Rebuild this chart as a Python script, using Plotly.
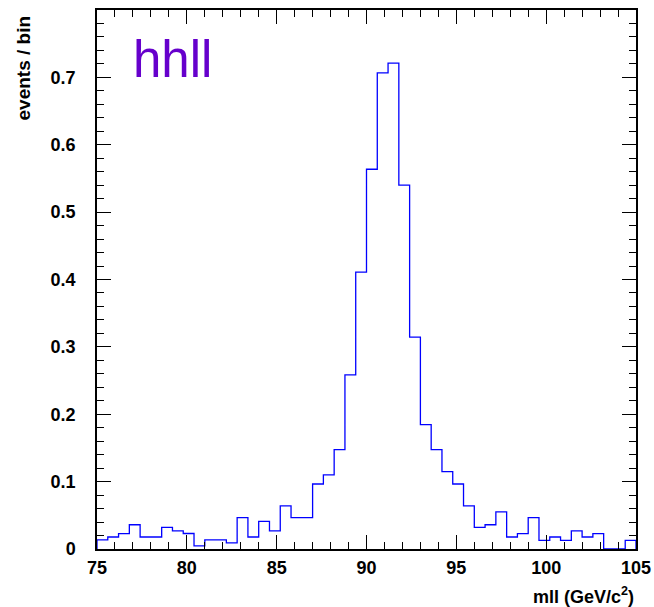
import numpy as np
import plotly.graph_objects as go

# Histogram: 50 bins of 0.6 GeV from 75 to 105
x_min = 75.0
bin_width = 0.6
events_per_bin = [
    0.0134, 0.0178, 0.0228, 0.0360, 0.0178, 0.0178, 0.0320, 0.0270, 0.0230, 0.0045,
    0.0134, 0.0134, 0.0090, 0.0465, 0.0178, 0.0410, 0.0270, 0.0640, 0.0465, 0.0465,
    0.0965, 0.1100, 0.1475, 0.2585, 0.4110, 0.5636, 0.7068, 0.7211, 0.5400, 0.3145,
    0.1847, 0.1475, 0.1149, 0.0965, 0.0639, 0.0322, 0.0360, 0.0550, 0.0178, 0.0228,
    0.0465, 0.0129, 0.0178, 0.0129, 0.0270, 0.0178, 0.0228, 0.0000, 0.0000, 0.0129,
]
x_ticks = [75, 80, 85, 90, 95, 100, 105]
y_ticks = [0, 0.1, 0.2, 0.3, 0.4, 0.5, 0.6, 0.7]
y_tick_text = ["0", "0.1", "0.2", "0.3", "0.4", "0.5", "0.6", "0.7"]

n = len(events_per_bin)
edges = x_min + bin_width * np.arange(n + 1)
xs = list(edges)
ys = list(events_per_bin) + [events_per_bin[-1]]
xs = [edges[0]] + xs + [edges[-1]]
ys = [0] + ys + [0]

fig = go.Figure()
fig.add_trace(go.Scatter(
    x=xs, y=ys, mode="lines", line=dict(shape="hv", color="#0000ff", width=1.3),
    hoverinfo="skip", showlegend=False,
))

FONT = "Liberation Sans, Arial, sans-serif"
tickfont = dict(family=FONT, size=18, color="black", weight="bold")

fig.update_xaxes(
    range=[75, 105], tickvals=x_ticks, ticktext=[str(v) for v in x_ticks],
    ticks="inside", ticklen=14, tickwidth=1, tickcolor="black",
    minor=dict(ticks="inside", ticklen=7, dtick=1, tickcolor="black", tickwidth=1, showgrid=False),
    showline=True, linecolor="black", linewidth=1.5, mirror="allticks",
    showgrid=False, zeroline=False, tickfont=tickfont, ticklabelstandoff=2,
    automargin=False,
)
fig.update_yaxes(
    range=[0, 0.8], tickvals=y_ticks, ticktext=y_tick_text,
    ticks="inside", ticklen=14, tickwidth=1, tickcolor="black",
    minor=dict(ticks="inside", ticklen=7, dtick=0.02, tick0=0, tickcolor="black", tickwidth=1, showgrid=False),
    showline=True, linecolor="black", linewidth=1.5, mirror="allticks",
    showgrid=False, zeroline=False, tickfont=tickfont, ticklabelstandoff=16,
    automargin=False,
)

fig.add_annotation(
    text="hhll", xref="paper", yref="paper", x=(131 - 97) / 539, y=1 - (29 - 10) / 539,
    xanchor="left", yanchor="top", showarrow=False,
    font=dict(family=FONT, size=51, color="#6600cc"),
)
fig.add_annotation(
    text="mll (GeV/c<sup>2</sup>)", xref="paper", yref="paper", x=1.0, y=-(582 - 549) / 539,
    xanchor="right", yanchor="top", showarrow=False,
    font=dict(family=FONT, size=18, color="black", weight="bold"),
)
fig.add_annotation(
    text="events / bin", xref="paper", yref="paper", x=-(97 - 23) / 539, y=1 - (14 - 10) / 539,
    xanchor="center", yanchor="top", textangle=-90, showarrow=False,
    font=dict(family=FONT, size=19, color="black", weight="bold"),
)

fig.update_layout(
    width=654, height=607,
    margin=dict(l=97, r=18, t=10, b=58, autoexpand=False),
    paper_bgcolor="white", plot_bgcolor="white",
)

fig.write_html(
    "out.html",
    config={"displayModeBar": False, "responsive": False},
    post_script="document.body.style.margin='0';document.body.style.overflow='hidden';",
)
